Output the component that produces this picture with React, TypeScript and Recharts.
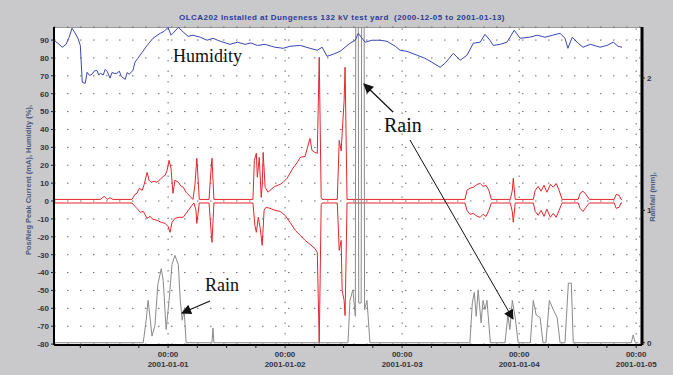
import React from 'react';
import {LineChart, Line, XAxis, YAxis, CartesianGrid, ReferenceLine} from 'recharts';

// time is in hours from 2001-01-01 00:00
const dayHours = [0, 24, 48, 72, 96];
const dayNames = ['2001-01-01', '2001-01-02', '2001-01-03', '2001-01-04', '2001-01-05'];
const timeTicks = [-18, -12, -6, 0, 6, 12, 18, 24, 30, 36, 42, 48, 54, 60, 66, 72, 78, 84, 90, 96];
const leftTicks = [-80, -70, -60, -50, -40, -30, -20, -10, 0, 10, 20, 30, 40, 50, 60, 70, 80, 90];
const rainTicks = [0, 1, 2];

// humidity (%)
const humidity: [number, number][] = [
    [-23.4, 89.9], [-22.6, 88.2], [-21.7, 86], [-20.9, 87.7], [-20.3, 91.5], [-19.7, 96.6], [-19.1, 94],
    [-18.5, 91], [-18.0, 87], [-17.6, 66.4], [-17.0, 65.8], [-16.6, 72], [-16.1, 70.2], [-15.6, 70.9],
    [-15.1, 72.8], [-14.6, 73], [-14.2, 70.4], [-13.9, 71.4], [-13.3, 70.5], [-12.9, 73.6], [-12.5, 72.5],
    [-11.9, 68.7], [-11.5, 71.9], [-11.1, 71.4], [-10.5, 71.4], [-10.0, 72.6], [-9.6, 69.7], [-8.8, 68],
    [-8.4, 71.8], [-8.0, 70.9], [-7.2, 73], [-6.8, 77.6], [-6.2, 79.8], [-5.3, 83.2], [-4.3, 87],
    [-3.1, 91], [-1.6, 93.8], [-0.8, 94.9], [0, 97.1], [0.6, 92.7], [1.0, 93.8], [2.1, 97.1],
    [3.1, 94.5], [4.1, 92.1], [5.1, 92.7], [6.6, 91.6], [8.0, 89.9], [9.2, 91], [10.7, 89.3],
    [12.7, 87.6], [14.2, 88.8], [15.8, 87.6], [17.0, 88.4], [18.3, 87], [19.9, 87.6], [21.9, 86],
    [23.6, 85.4], [25.0, 86.5], [27.1, 87], [29.1, 85.4], [30.6, 84.3], [31.6, 86], [32.6, 80.9],
    [33.8, 82], [35.3, 83.7], [37.3, 88.2], [38.4, 89.9], [39.0, 93.8], [39.8, 91], [40.4, 88.8],
    [41.8, 89.9], [43.5, 89.9], [44.9, 89.3], [46.6, 86.5], [47.6, 84.3], [49.0, 83.7], [50.2, 82.4],
    [51.1, 81.5], [52.7, 79.8], [54.1, 77.6], [55.8, 74.8], [56.8, 77], [58.5, 82.6], [59.9, 78.7],
    [61.3, 81.5], [62.6, 88.2], [64.0, 88.8], [65.0, 93.2], [66.0, 89.9], [66.7, 87], [68.1, 87.6],
    [69.5, 88.8], [71.0, 95.5], [72.2, 91], [74.2, 91.6], [75.7, 92.7], [77.3, 91.6], [78.9, 92.7],
    [80.4, 93.8], [81.4, 91], [82.0, 85.4], [82.9, 91.6], [84.1, 88.2], [85.1, 86], [86.6, 87.6],
    [88.6, 86], [90.0, 87], [91.3, 88.8], [92.3, 86.5], [93.1, 86],
];

// positive peak current (mA)
const posCurrent: [number, number][] = [
    [-23.2, 0.9], [-13.9, 0.9], [-13.1, 2.6], [-12.5, 0.9], [-11.9, 1.8], [-11.3, 0.9], [-7.4, 0.9],
    [-6.8, 3.7], [-6.4, 4.3], [-5.9, 7.1], [-5.3, 6], [-4.9, 9.3], [-4.3, 16], [-3.9, 11.6], [-3.5, 10.5],
    [-2.9, 11], [-2.3, 10.5], [-1.6, 12.1], [-1.0, 13.8], [-0.6, 14.4], [-0.2, 17.2], [0.2, 22.8],
    [0.6, 18.3], [1.0, 4.3], [1.4, 11.6], [2.1, 10.5], [2.7, 8.2], [3.1, 7.7], [3.7, 4.9], [4.5, 2.6],
    [5.1, 0.9], [5.5, 8.8], [5.9, 23.9], [6.4, 0.9], [8.4, 0.9], [8.8, 17.2], [9.0, 23.9], [9.4, 0.9],
    [17.4, 0.9], [17.7, 22.8], [18.1, 26.7], [18.3, 13.3], [18.7, 24.4], [19.1, 2], [19.3, 8],
    [19.5, 27.2], [19.9, 7.7], [20.5, 4.9], [20.9, 6], [21.9, 8.2], [23.0, 9.3], [23.6, 10.5],
    [24.4, 12.7], [25.0, 15.5], [25.6, 18.3], [26.5, 21.6], [27.1, 24.4], [28.1, 25], [29.1, 35],
    [29.5, 28.4], [30.1, 27.2], [30.6, 26.7], [31.0, 80.4], [31.4, 2], [31.6, 0.9], [34.7, 0.9],
    [35.1, 33.9], [35.5, 28], [35.7, 37.9], [36.1, 56], [36.3, 74.8], [36.7, 0.9], [60.9, 0.9],
    [61.3, 6], [61.9, 7.1], [62.6, 7.7], [63.4, 9.3], [64.0, 9.8], [64.6, 8.2], [65.2, 8.8], [65.8, 6],
    [66.3, 0.9], [70.2, 0.9], [70.6, 6], [70.8, 12.7], [71.2, 0.9], [74.9, 0.9], [75.3, 6], [75.9, 8.2],
    [76.5, 5.5], [77.1, 8.8], [77.7, 4.9], [78.4, 9.3], [79.0, 7.7], [79.6, 9.8], [80.2, 6], [80.8, 0.9],
    [84.1, 0.9], [84.5, 4.3], [85.1, 5.5], [85.7, 3.7], [86.4, 0.9], [91.5, 0.9], [91.9, 3.7],
    [92.5, 3.2], [92.9, 0.9], [93.1, 0.9],
];

// negative peak current (mA)
const negCurrent: [number, number][] = [
    [-23.2, -1.1], [-7.4, -1.1], [-6.8, -3], [-6.4, -4.1], [-5.7, -6.3], [-5.1, -5.8], [-4.3, -9.7],
    [-3.7, -8.6], [-3.1, -10.2], [-2.3, -10.8], [-1.4, -11.9], [-0.6, -12.5], [0, -14.2], [0.4, -17.5],
    [0.8, -11.9], [1.4, -9.7], [2.3, -9.1], [3.1, -9.1], [3.7, -6.9], [4.3, -4.6], [4.9, -2.4],
    [5.3, -1.1], [5.7, -5], [5.9, -12.5], [6.4, -1.1], [8.4, -1.1], [8.8, -16.4], [9.0, -23.1],
    [9.4, -1.1], [17.4, -1.1], [17.8, -13.6], [18.1, -17.5], [18.5, -9.1], [18.9, -15.3], [19.3, -24.8],
    [19.7, -5], [20.1, -3.5], [20.9, -4.1], [21.9, -5.2], [23.0, -5.8], [24.0, -8], [25.0, -11.9],
    [26.1, -16.4], [27.1, -19.2], [28.1, -22], [29.1, -24.2], [30.1, -26.5], [30.6, -28.7],
    [31.0, -79.6], [31.4, -2], [31.6, -1.1], [34.7, -1.1], [35.1, -27.6], [35.5, -22], [35.7, -50],
    [36.1, -55.6], [36.3, -64], [36.7, -1.1], [60.9, -1.1], [61.3, -5.2], [61.9, -7.4], [62.6, -6.9],
    [63.4, -8.6], [64.0, -9.1], [64.6, -7.4], [65.2, -8.6], [65.8, -5.2], [66.3, -1.1], [70.2, -1.1],
    [70.6, -6], [70.8, -11.9], [71.2, -1.1], [74.9, -1.1], [75.3, -5.8], [75.9, -8], [76.5, -5.2],
    [77.1, -8.6], [77.7, -4.6], [78.4, -9.1], [79.0, -6.9], [79.6, -9.1], [80.2, -5.2], [80.8, -1.1],
    [84.1, -1.1], [84.5, -4.1], [85.1, -5.8], [85.7, -3.5], [86.4, -1.1], [91.5, -1.1], [91.9, -4.1],
    [92.5, -3.5], [92.9, -1.1], [93.1, -1.1],
];

// rainfall (mm)
const rainfall: [number, number][] = [
    [-23.2, 0], [-5.1, 0], [-4.5, 0.17], [-4.1, 0.32], [-3.7, 0.19], [-3.3, 0.05], [-2.7, 0.13],
    [-2.1, 0.44], [-1.4, 0.56], [-1.0, 0.47], [-0.4, 0.1], [0.2, 0.32], [0.8, 0.59], [1.4, 0.66],
    [2.1, 0.59], [2.5, 0.32], [2.9, 0.17], [3.3, 0.25], [3.7, 0], [9.0, 0], [9.2, 0.11], [9.4, 0],
    [36.9, 0], [37.3, 0.32], [37.9, 0.4], [38.4, 0.2], [38.5, 2.6], [39.0, 2.6], [39.1, 0.3],
    [39.6, 0.3], [39.7, 2.6], [40.2, 2.6], [40.3, 0.25], [40.8, 0.32], [41.4, 0], [61.9, 0],
    [62.4, 0.3], [62.8, 0.38], [63.2, 0.2], [63.6, 0.4], [64.2, 0.15], [64.6, 0.32], [65.0, 0.25],
    [65.4, 0.32], [66.1, 0], [69.1, 0], [69.7, 0.21], [70.1, 0.1], [70.6, 0.32], [71.2, 0.19],
    [71.8, 0], [74.3, 0], [74.9, 0.32], [75.5, 0.21], [76.3, 0.19], [76.9, 0], [77.5, 0],
    [78.2, 0.32], [79.0, 0.25], [79.8, 0.19], [80.4, 0], [81.4, 0], [82.1, 0.45], [82.7, 0.45],
    [83.1, 0], [95.0, 0], [95.4, 0.06], [95.8, 0], [96.5, 0],
];

const toRows = (pts: [number, number][]) => pts.map(([t, v]) => ({t, v}));

const DayTick = (props: any) => {
    const {x, y, payload} = props;
    const i = dayHours.indexOf(payload.value);
    if (i < 0) return <g/>;
    const st = {fontSize: 8, fontWeight: 700, fontFamily: 'Liberation Sans, Arial, sans-serif', fill: '#333340'};
    return (
        <g>
            <text x={x} y={y + 7} textAnchor="middle" style={st}>00:00</text>
            <text x={x} y={y + 17} textAnchor="middle" style={st}>{dayNames[i]}</text>
        </g>
    );
};

const tickStyle = {fontSize: 8, fontWeight: 700, fontFamily: 'Liberation Sans, Arial, sans-serif', fill: '#333340'};

const App: React.FunctionComponent = () => {
    return (
        <div style={{position: 'absolute', left: 0, top: 0, width: 673, height: 375, background: '#c9c9cb', overflow: 'hidden'}}>
            <div style={{position: 'absolute', left: 54, top: 27, width: 588, height: 318, background: '#fff', borderTop: '1px solid #9a9a9a', boxSizing: 'border-box'}}/>
            <div style={{position: 'absolute', left: 0, top: 0}}>
                <LineChart width={673} height={375} margin={{top: 27, right: 0, bottom: 0, left: 0}}>
                    <CartesianGrid yAxisId="left" vertical={false} stroke="#6a6a6a" strokeDasharray="1.5 11.5"/>
                    {dayHours.map(h => (
                        <ReferenceLine key={h} x={h} yAxisId="left" stroke="#6a6a6a" strokeDasharray="1.5 9"/>
                    ))}
                    <XAxis type="number" dataKey="t" domain={[-23.4, 97.2]} allowDataOverflow ticks={timeTicks}
                           interval={0} tick={<DayTick/>} tickSize={3} height={30}
                           axisLine={{stroke: '#000', strokeWidth: 2}} tickLine={{stroke: '#222'}}/>
                    <YAxis yAxisId="left" domain={[-80.5, 97.3]} allowDataOverflow ticks={leftTicks} interval={0}
                           width={54} tickSize={3} tick={tickStyle}
                           axisLine={{stroke: '#000', strokeWidth: 2}} tickLine={{stroke: '#222'}}/>
                    <YAxis yAxisId="rain" orientation="right" domain={[-0.017, 2.385]} allowDataOverflow
                           ticks={rainTicks} interval={0} width={31} tickSize={3} tick={tickStyle}
                           axisLine={{stroke: '#000', strokeWidth: 3}} tickLine={{stroke: '#222'}}/>
                    <Line yAxisId="left" data={toRows(posCurrent)} dataKey="v" type="linear" stroke="#e3262b"
                          strokeWidth={1} dot={false} isAnimationActive={false}/>
                    <Line yAxisId="left" data={toRows(negCurrent)} dataKey="v" type="linear" stroke="#e3262b"
                          strokeWidth={1} dot={false} isAnimationActive={false}/>
                    <Line yAxisId="rain" data={toRows(rainfall)} dataKey="v" type="linear" stroke="#8a8a8a"
                          strokeWidth={1} dot={false} isAnimationActive={false}/>
                    <Line yAxisId="left" data={toRows(humidity)} dataKey="v" type="linear" stroke="#3b46b4"
                          strokeWidth={1} dot={false} isAnimationActive={false}/>
                </LineChart>
            </div>
            <svg width={673} height={375} style={{position: 'absolute', left: 0, top: 0, pointerEvents: 'none'}}>
                <defs>
                    <marker id="ah" viewBox="0 0 10 10" refX="9" refY="5" markerWidth="14" markerHeight="10"
                            markerUnits="userSpaceOnUse" orient="auto">
                        <path d="M0,0 L10,5 L0,10 z" fill="#111"/>
                    </marker>
                </defs>
                <text x={342} y={20} textAnchor="middle"
                      style={{fontSize: 8, fontWeight: 700, fontFamily: 'Liberation Sans, Arial, sans-serif', fill: '#2b3a9c', letterSpacing: 0.45, whiteSpace: 'pre'}}>
                    OLCA202 Installed at Dungeness 132 kV test yard  (2000-12-05 to 2001-01-13)
                </text>
                <text transform="translate(31,180) rotate(-90)" textAnchor="middle"
                      style={{fontSize: 7.5, fontWeight: 700, fontFamily: 'Liberation Sans, Arial, sans-serif', fill: '#4a5a82'}}>
                    Pos/Neg Peak Current (mA), Humidity (%),
                </text>
                <text transform="translate(655,197) rotate(-90)" textAnchor="middle"
                      style={{fontSize: 7.5, fontWeight: 700, fontFamily: 'Liberation Sans, Arial, sans-serif', fill: '#4a5a82'}}>
                    Rainfall (mm),
                </text>
                <text x={173} y={62} style={{fontSize: 18, fontFamily: 'Liberation Serif, serif', fill: '#111'}}>Humidity</text>
                <text x={384} y={132} style={{fontSize: 20, fontFamily: 'Liberation Serif, serif', fill: '#111'}}>Rain</text>
                <text x={205} y={291} style={{fontSize: 18, fontFamily: 'Liberation Serif, serif', fill: '#111'}}>Rain</text>
                <line x1={393} y1={112} x2={364} y2={84} stroke="#111" strokeWidth={1.2} markerEnd="url(#ah)"/>
                <line x1={410} y1={140} x2={513} y2={319} stroke="#111" strokeWidth={1} markerEnd="url(#ah)"/>
                <line x1={210} y1={301} x2={182} y2={313} stroke="#111" strokeWidth={1.2} markerEnd="url(#ah)"/>
            </svg>
        </div>
    );
};

export default App;
